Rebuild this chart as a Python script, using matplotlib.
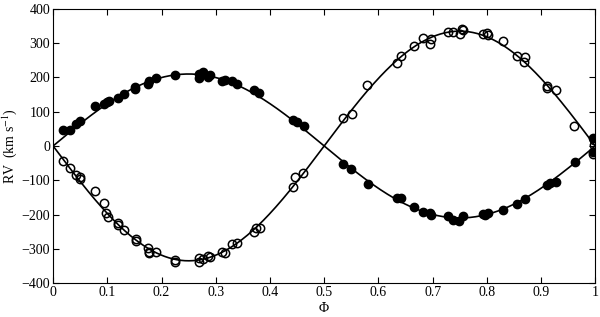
import matplotlib.pyplot as plt
import numpy as np

plt.rcParams['font.family'] = ['Liberation Serif', 'DejaVu Serif']
plt.rcParams['mathtext.fontset'] = 'stix'

# primary (filled circles)
ph1 = [0.0185, 0.032, 0.042, 0.049, 0.077, 0.093, 0.099, 0.103, 0.12, 0.13,
       0.152, 0.152, 0.175, 0.176, 0.189, 0.224, 0.269, 0.269, 0.277, 0.285,
       0.29, 0.311, 0.317, 0.33, 0.339, 0.37, 0.379, 0.443, 0.449, 0.462,
       0.534, 0.55, 0.58, 0.635, 0.642, 0.665, 0.683, 0.696, 0.697, 0.729,
       0.738, 0.749, 0.756, 0.793, 0.797, 0.803, 0.83, 0.856, 0.871, 0.911,
       0.917, 0.927, 0.962, 0.996, 0.996]
rv1 = [47, 47, 64, 74, 117, 123, 128, 131, 139, 152,
       165, 173, 181, 190, 199, 208, 210, 197, 215, 202,
       208, 191, 193, 189, 181, 163, 156, 76, 71, 58,
       -53, -67, -112, -153, -153, -177, -192, -195, -200, -204,
       -216, -219, -204, -197, -202, -195, -187, -169, -156, -114,
       -107, -104, -46, -17, 24]

# secondary (open circles)
ph2 = [0.018, 0.032, 0.042, 0.049, 0.05, 0.077, 0.093, 0.098, 0.102, 0.119,
       0.12, 0.131, 0.153, 0.153, 0.175, 0.176, 0.177, 0.189, 0.224, 0.225,
       0.269, 0.269, 0.277, 0.285, 0.29, 0.311, 0.317, 0.33, 0.339, 0.37,
       0.375, 0.382, 0.443, 0.447, 0.461,
       0.534, 0.551, 0.579, 0.634, 0.642, 0.665, 0.683, 0.696, 0.697, 0.729,
       0.738, 0.751, 0.754, 0.756, 0.793, 0.8, 0.803, 0.83, 0.856, 0.87,
       0.869, 0.911, 0.912, 0.927, 0.961, 0.997, 0.998, 0.996]
rv2 = [-43, -65, -85, -91, -95, -130, -167, -195, -206, -226,
       -231, -245, -270, -277, -299, -313, -308, -309, -333, -338,
       -328, -338, -331, -321, -325, -309, -311, -287, -284, -250,
       -240, -240, -121, -90, -80,
       81, 93, 178, 243, 263, 292, 316, 298, 311, 332,
       332, 327, 341, 339, 327, 329, 323, 305, 263, 259,
       244, 175, 168, 163, 59, 18, 3, -23]

# orbit solution semi-amplitudes
K1 = 210
K2 = 335

fig = plt.figure(figsize=(6, 3.17), dpi=100)
ax = fig.add_axes([0.0885, 0.107, 0.9035, 0.865])

phase = np.linspace(0, 1, 400)
ax.plot(phase, K1 * np.sin(2 * np.pi * phase), color='k', lw=1.2)
ax.plot(phase, -K2 * np.sin(2 * np.pi * phase), color='k', lw=1.2)

ax.plot(ph1, rv1, 'o', color='k', ms=6)
ax.plot(ph2, rv2, 'o', mfc='none', mec='k', mew=1.1, ms=6)

ax.set_xlim(0, 1)
ax.set_ylim(-400, 400)
ax.set_xticks(np.arange(0, 1.01, 0.1))
ax.set_xticklabels(['0', '0.1', '0.2', '0.3', '0.4', '0.5', '0.6', '0.7', '0.8', '0.9', '1'])
ax.set_yticks(np.arange(-400, 401, 100))
ax.tick_params(direction='in', top=True, right=True, length=4, labelsize=10, pad=2)
ax.set_xlabel('Φ', fontsize=10, labelpad=2)
ax.set_ylabel('RV  (km s$^{-1}$)', fontsize=10, labelpad=2)
for s in ax.spines.values():
    s.set_linewidth(0.8)

fig.savefig('out.png', dpi=100)
